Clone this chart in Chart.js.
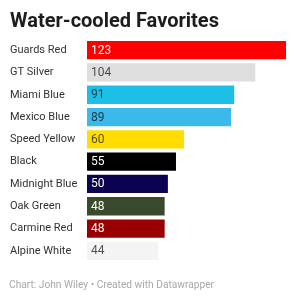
<!DOCTYPE html>
<html>
<head>
<meta charset="utf-8">
<script src="https://cdn.jsdelivr.net/npm/chart.js@4/dist/chart.umd.min.js"></script>
<style>
  body { margin: 0; background: #fff; font-family: Roboto, sans-serif; }
  #wrap { position: relative; width: 296px; height: 300px; overflow: hidden; }
  #box { position: absolute; left: 0; top: 0; width: 296px; height: 300px; }
  h1 { position: absolute; left: 10px; top: 8px; margin: 0; font-size: 20px; line-height: 24px; font-weight: 700; color: #1d1d1d; white-space: nowrap; }
  #foot { position: absolute; left: 9px; top: 278px; font-size: 10.2px; line-height: 14px; color: #a8a8a8; white-space: nowrap; }
</style>
</head>
<body>
<div id="wrap">
  <div id="box"><canvas id="barChart"></canvas></div>
  <h1>Water-cooled Favorites</h1>
  <div id="foot">Chart: John Wiley • Created with Datawrapper</div>
</div>
<script>
// donnees
const colorNames = ['Guards Red', 'GT Silver', 'Miami Blue', 'Mexico Blue', 'Speed Yellow', 'Black', 'Midnight Blue', 'Oak Green', 'Carmine Red', 'Alpine White'];
const votes = [123, 104, 91, 89, 60, 55, 50, 48, 48, 44];
const barColors = ['#ff0000', '#dedede', '#1dbfe6', '#3ab9ea', '#ffdd00', '#000000', '#0b0352', '#394b2c', '#990000', '#f4f4f4'];

// couleur du texte dans la barre selon la luminosite
function labelColor(hex) {
    const r = parseInt(hex.slice(1, 3), 16);
    const g = parseInt(hex.slice(3, 5), 16);
    const b = parseInt(hex.slice(5, 7), 16);
    const lum = (0.299 * r + 0.587 * g + 0.114 * b) / 255;
    return lum > 0.55 ? 'rgba(0,0,0,0.68)' : '#ffffff';
}

// valeurs ecrites dans les barres
const valueLabels = {
    id: 'valueLabels',
    afterDatasetsDraw(chart) {
        const ctx = chart.ctx;
        const meta = chart.getDatasetMeta(0);
        ctx.save();
        ctx.font = '12px Roboto';
        ctx.textBaseline = 'middle';
        ctx.textAlign = 'left';
        meta.data.forEach((bar, i) => {
            ctx.fillStyle = labelColor(barColors[i]);
            ctx.fillText(String(votes[i]), bar.base + 4, bar.y + 0.5);
        });
        ctx.restore();
    }
};

const ctx = document.getElementById('barChart').getContext('2d');
const barChart = new Chart(ctx, {
    type: 'bar',
    data: {
        labels: colorNames,
        datasets: [{
            data: votes,
            backgroundColor: barColors,
            borderWidth: 0,
            barPercentage: 0.82,
            categoryPercentage: 1,
        }]
    },
    options: {
        indexAxis: 'y',
        responsive: true,
        maintainAspectRatio: false,
        animation: false,
        layout: {
            padding: { left: 10, right: 10, top: 39, bottom: 38 }
        },
        plugins: {
            legend: { display: false },
            tooltip: { enabled: false },
        },
        scales: {
            x: {
                display: false,
                min: 0,
                max: 123,
            },
            y: {
                grid: { display: false },
                border: { display: false },
                afterFit(scale) { scale.width = 77; },
                ticks: {
                    crossAlign: 'far',
                    padding: 0,
                    color: '#333333',
                    font: { family: 'Roboto', size: 11 },
                }
            }
        }
    },
    plugins: [valueLabels]
});
</script>
</body>
</html>
